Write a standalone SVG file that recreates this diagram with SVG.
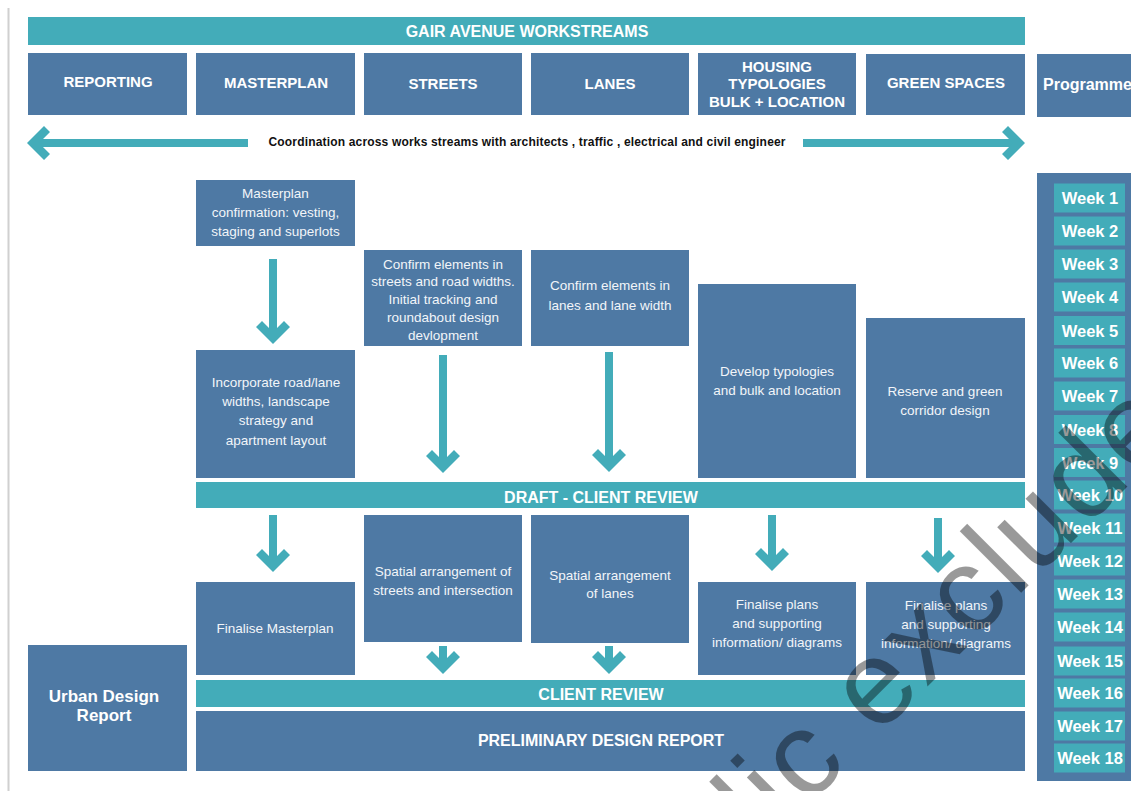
<svg xmlns="http://www.w3.org/2000/svg" width="1131" height="791" viewBox="0 0 1131 791">
<defs>
<style>
.box{fill:#4e79a4}
.bar{fill:#43acb9}
.hd{font-family:"Liberation Sans",Arial,sans-serif;font-weight:bold;fill:#ffffff;text-anchor:middle;font-size:15px}
.big{font-family:"Liberation Sans",Arial,sans-serif;font-weight:bold;fill:#ffffff;text-anchor:middle;font-size:16px}
.tx{font-family:"Liberation Sans",Arial,sans-serif;font-size:13.5px;fill:#f2f5f9;text-anchor:middle}
.wk{font-family:"Liberation Sans",Arial,sans-serif;font-weight:bold;fill:#ffffff;text-anchor:middle;font-size:16.5px}
.ar{fill:#43acb9}
.wm{font-family:"Liberation Sans",Arial,sans-serif;font-size:120px;letter-spacing:3px;fill:#000000;fill-opacity:0.4}
</style>
<path id="dh" d="M0,0 L-17,-17 L-11,-23 L0,-12 L11,-23 L17,-17 Z"/>
</defs>
<rect width="1131" height="791" fill="#ffffff"/>
<line x1="8.5" y1="8" x2="8.5" y2="791" stroke="#d0d0d0" stroke-width="2"/>

<g id="title">
<rect class="bar" x="28" y="17" width="997" height="28"/>
<text class="big" x="527" y="37">GAIR AVENUE WORKSTREAMS</text>
</g>

<g id="h-reporting"><rect class="box" x="28" y="53" width="159" height="62"/><text class="hd" x="108" y="86.5">REPORTING</text></g>
<g id="h-masterplan"><rect class="box" x="196" y="53" width="159" height="62"/><text class="hd" x="276" y="87.5">MASTERPLAN</text></g>
<g id="h-streets"><rect class="box" x="364" y="53" width="158" height="62"/><text class="hd" x="443" y="88.5">STREETS</text></g>
<g id="h-lanes"><rect class="box" x="531" y="53" width="158" height="62"/><text class="hd" x="610" y="88.5">LANES</text></g>
<g id="h-housing"><rect class="box" x="698" y="53" width="158" height="62"/>
<text class="hd" x="777" y="71.5">HOUSING</text><text class="hd" x="777" y="88.5">TYPOLOGIES</text><text class="hd" x="777" y="106.5">BULK + LOCATION</text></g>
<g id="h-green"><rect class="box" x="866" y="54" width="159" height="61"/><text class="hd" x="946" y="87.5">GREEN SPACES</text></g>
<g id="h-programme"><rect class="box" x="1037" y="54" width="100" height="63"/><text class="big" x="1043" y="89.5" style="text-anchor:start">Programme</text></g>

<g id="coordination">
<text x="527" y="146" font-family="Liberation Sans, Arial, sans-serif" font-weight="bold" font-size="12" fill="#111111" text-anchor="middle" textLength="517">Coordination across works streams with architects , traffic , electrical and civil engineer</text>
</g>

<g id="n-mp-confirm"><rect class="box" x="196" y="180" width="159" height="66"/>
<text class="tx" x="275.5" y="198">Masterplan</text><text class="tx" x="275.5" y="217">confirmation: vesting,</text><text class="tx" x="275.5" y="236">staging and superlots</text></g>

<g id="n-incorporate"><rect class="box" x="196" y="350" width="159" height="128"/>
<text class="tx" x="276" y="387">Incorporate road/lane</text><text class="tx" x="276" y="406">widths, landscape</text><text class="tx" x="276" y="425">strategy and</text><text class="tx" x="276" y="445">apartment layout</text></g>

<g id="n-confirm-streets"><rect class="box" x="364" y="250" width="158" height="96"/>
<text class="tx" x="443" y="269">Confirm elements in</text><text class="tx" x="443" y="286">streets and road widths.</text><text class="tx" x="443" y="304">Initial tracking and</text><text class="tx" x="443" y="322">roundabout design</text><text class="tx" x="443" y="340">devlopment</text></g>

<g id="n-confirm-lanes"><rect class="box" x="531" y="250" width="158" height="96"/>
<text class="tx" x="610" y="290">Confirm elements in</text><text class="tx" x="610" y="310">lanes and lane width</text></g>

<g id="n-develop"><rect class="box" x="698" y="284" width="158" height="194"/>
<text class="tx" x="777" y="376">Develop typologies</text><text class="tx" x="777" y="395">and bulk and location</text></g>

<g id="n-reserve"><rect class="box" x="866" y="318" width="159" height="160"/>
<text class="tx" x="945" y="396">Reserve and green</text><text class="tx" x="945" y="415">corridor design</text></g>

<g id="n-draft"><rect class="bar" x="196" y="482" width="829" height="26"/>
<text class="big" x="601" y="503">DRAFT - CLIENT REVIEW</text></g>

<g id="n-finalise-mp"><rect class="box" x="196" y="582" width="159" height="93"/>
<text class="tx" x="275" y="633">Finalise Masterplan</text></g>

<g id="n-spatial-streets"><rect class="box" x="364" y="515" width="158" height="127"/>
<text class="tx" x="443" y="576">Spatial arrangement of</text><text class="tx" x="443" y="595">streets and intersection</text></g>

<g id="n-spatial-lanes"><rect class="box" x="531" y="515" width="158" height="128"/>
<text class="tx" x="610" y="580">Spatial arrangement</text><text class="tx" x="610" y="598">of lanes</text></g>

<g id="n-finalise-housing"><rect class="box" x="698" y="582" width="158" height="93"/>
<text class="tx" x="777" y="609">Finalise plans</text><text class="tx" x="777" y="628">and supporting</text><text class="tx" x="777" y="647">information/ diagrams</text></g>

<g id="n-finalise-green"><rect class="box" x="866" y="582" width="159" height="93"/>
<text class="tx" x="946" y="610">Finalise plans</text><text class="tx" x="946" y="629">and supporting</text><text class="tx" x="946" y="648">information/ diagrams</text></g>

<g id="n-client-review"><rect class="bar" x="196" y="680" width="829" height="27"/>
<text class="big" x="601" y="700">CLIENT REVIEW</text></g>

<g id="n-prelim"><rect class="box" x="196" y="711" width="829" height="60"/>
<text class="big" x="601" y="746">PRELIMINARY DESIGN REPORT</text></g>

<g id="n-urban"><rect class="box" x="28" y="645" width="159" height="126"/>
<text class="big" x="104" y="702" style="font-size:17px">Urban Design</text><text class="big" x="104" y="721" style="font-size:17px">Report</text></g>

<g id="n-weeks">
<rect class="box" x="1037" y="173" width="100" height="608"/>
<g class="bar">
<rect x="1054" y="183.5" width="71" height="29"/><rect x="1054" y="216.5" width="71" height="29"/><rect x="1054" y="249.5" width="71" height="29"/>
<rect x="1054" y="282.5" width="71" height="29"/><rect x="1054" y="316" width="71" height="29"/><rect x="1054" y="348.5" width="71" height="29"/>
<rect x="1054" y="381.5" width="71" height="29"/><rect x="1054" y="415" width="71" height="29"/><rect x="1054" y="448" width="71" height="29"/>
<rect x="1054" y="480.5" width="71" height="29"/><rect x="1054" y="513.5" width="71" height="29"/><rect x="1054" y="546.5" width="71" height="29"/>
<rect x="1054" y="579.5" width="71" height="29"/><rect x="1054" y="612.5" width="71" height="29"/><rect x="1054" y="646.5" width="71" height="29"/>
<rect x="1054" y="678.5" width="71" height="29"/><rect x="1054" y="711.5" width="71" height="29"/><rect x="1054" y="743.5" width="71" height="29"/>
</g>
<text class="wk" x="1090" y="204">Week 1</text><text class="wk" x="1090" y="237">Week 2</text><text class="wk" x="1090" y="270">Week 3</text>
<text class="wk" x="1090" y="303">Week 4</text><text class="wk" x="1090" y="337">Week 5</text><text class="wk" x="1090" y="369">Week 6</text>
<text class="wk" x="1090" y="402">Week 7</text><text class="wk" x="1090" y="436">Week 8</text><text class="wk" x="1090" y="469">Week 9</text>
<text class="wk" x="1090" y="501">Week 10</text><text class="wk" x="1090" y="534">Week 11</text><text class="wk" x="1090" y="567">Week 12</text>
<text class="wk" x="1090" y="600">Week 13</text><text class="wk" x="1090" y="633">Week 14</text><text class="wk" x="1090" y="667">Week 15</text>
<text class="wk" x="1090" y="699">Week 16</text><text class="wk" x="1090" y="732">Week 17</text><text class="wk" x="1090" y="764">Week 18</text>
</g>

<g id="connectors" class="ar">
<rect x="37" y="139" width="211" height="8"/><use href="#dh" transform="translate(27,143) rotate(90)"/>
<rect x="803" y="139" width="212" height="8"/><use href="#dh" transform="translate(1025,143) rotate(-90)"/>
<rect x="269" y="259" width="8" height="75"/><use href="#dh" transform="translate(273,344)"/>
<rect x="439" y="355" width="8" height="108"/><use href="#dh" transform="translate(443,473)"/>
<rect x="605" y="352" width="8" height="111"/><use href="#dh" transform="translate(609,472)"/>
<rect x="269" y="515" width="8" height="47"/><use href="#dh" transform="translate(273,572)"/>
<rect x="768" y="515" width="8" height="46"/><use href="#dh" transform="translate(772,571)"/>
<rect x="934" y="518" width="8" height="45"/><use href="#dh" transform="translate(938,573)"/>
<rect x="439" y="646" width="8" height="18"/><use href="#dh" transform="translate(443,674)"/>
<rect x="605" y="646" width="8" height="18"/><use href="#dh" transform="translate(609,674)"/>
</g>

<text class="wm" x="617" y="997" transform="rotate(-45 617 997)">public excluded</text>
</svg>
